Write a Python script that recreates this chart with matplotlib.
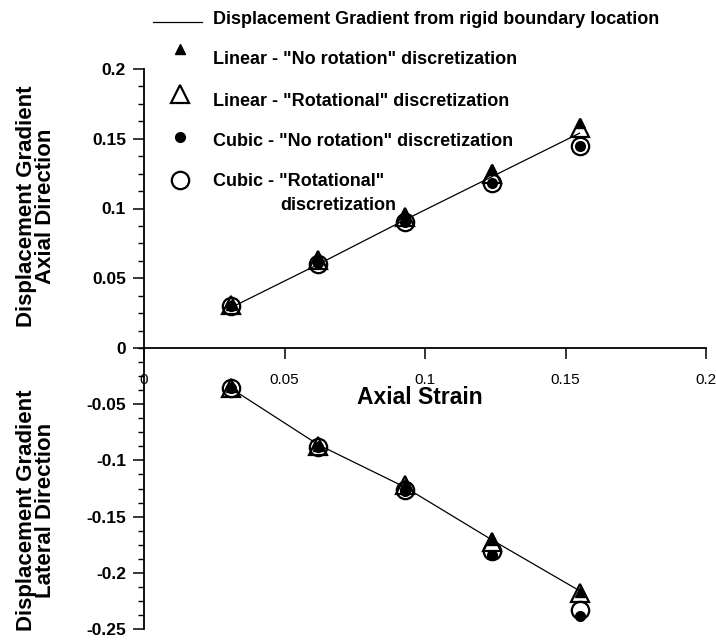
import matplotlib
matplotlib.use("Agg")
import matplotlib.pyplot as plt
from matplotlib.ticker import MultipleLocator, FixedLocator
from matplotlib.lines import Line2D

plt.rcParams['font.family'] = ['Liberation Sans', 'DejaVu Sans']

# Axial strain levels
strain = [0.031, 0.062, 0.093, 0.124, 0.155]

# Axial direction displacement gradient
axial_rigid = [0.029, 0.060, 0.092, 0.123, 0.154]
axial_lin_norot = [0.031, 0.065, 0.096, 0.128, 0.161]
axial_lin_rot = [0.031, 0.063, 0.094, 0.125, 0.158]
axial_cub_norot = [0.030, 0.061, 0.090, 0.118, 0.145]
axial_cub_rot = [0.030, 0.060, 0.090, 0.118, 0.145]

# Lateral direction displacement gradient
lateral_rigid = [-0.036, -0.086, -0.124, -0.171, -0.216]
lateral_lin_norot = [-0.035, -0.087, -0.121, -0.171, -0.217]
lateral_lin_rot = [-0.036, -0.087, -0.122, -0.173, -0.218]
lateral_cub_norot = [-0.036, -0.088, -0.127, -0.184, -0.238]
lateral_cub_rot = [-0.036, -0.088, -0.126, -0.181, -0.233]

legend_labels = [
    'Displacement Gradient from rigid boundary location',
    'Linear - "No rotation" discretization',
    'Linear - "Rotational" discretization',
    'Cubic - "No rotation" discretization',
    'Cubic - "Rotational"',
]

W, H = 716, 640
fig = plt.figure(figsize=(W / 100, H / 100), dpi=100)


def px_rect(left, top, right, bottom):
    return [left / W, 1 - bottom / H, (right - left) / W, (bottom - top) / H]


ax_top = fig.add_axes(px_rect(144, 69, 706, 348))
ax_bot = fig.add_axes(px_rect(144, 348, 706, 629))

open_style = dict(linestyle='none', markerfacecolor='none', markeredgecolor='black',
                  markeredgewidth=1.6, markersize=12.5)
filled_style = dict(linestyle='none', color='black', markersize=7)


def draw_series(ax, rigid, lin_norot, lin_rot, cub_norot, cub_rot):
    ax.plot(strain, rigid, color='black', lw=0.9, zorder=2)
    ax.plot(strain, lin_rot, marker='^', zorder=3, **open_style)
    ax.plot(strain, cub_rot, marker='o', zorder=3, **open_style)
    ax.plot(strain, lin_norot, marker='^', zorder=4, **filled_style)
    ax.plot(strain, cub_norot, marker='o', zorder=4, **filled_style)


draw_series(ax_top, axial_rigid, axial_lin_norot, axial_lin_rot,
            axial_cub_norot, axial_cub_rot)
draw_series(ax_bot, lateral_rigid, lateral_lin_norot, lateral_lin_rot,
            lateral_cub_norot, lateral_cub_rot)

for ax in (ax_top, ax_bot):
    ax.set_facecolor('none')
    ax.set_xlim(0, 0.2)
    for s in ('top', 'right'):
        ax.spines[s].set_visible(False)
    ax.spines['left'].set_linewidth(1.3)
    ax.yaxis.set_minor_locator(MultipleLocator(0.0125))
    ax.tick_params(axis='y', which='major', direction='out', length=8, width=1.1,
                   pad=5, labelsize=12.5)
    ax.tick_params(axis='y', which='minor', direction='out', length=4.5, width=1.0)

ax_top.set_ylim(0, 0.2)
ax_top.yaxis.set_major_locator(FixedLocator([0, 0.05, 0.1, 0.15, 0.2]))
ax_top.set_yticklabels(['0', '0.05', '0.1', '0.15', '0.2'], fontweight='bold')
ax_top.spines['bottom'].set_linewidth(1.3)
ax_top.xaxis.set_major_locator(FixedLocator([0, 0.05, 0.1, 0.15, 0.2]))
ax_top.set_xticklabels(['0', '0.05', '0.1', '0.15', '0.2'])
ax_top.tick_params(axis='x', direction='out', length=8, width=1.1, pad=10, labelsize=11)

ax_bot.set_ylim(-0.25, 0)
ax_bot.yaxis.set_major_locator(FixedLocator([-0.25, -0.2, -0.15, -0.1, -0.05]))
ax_bot.set_yticklabels(['-0.25', '-0.2', '-0.15', '-0.1', '-0.05'], fontweight='bold')
ax_bot.spines['bottom'].set_visible(False)
ax_bot.tick_params(axis='x', which='both', bottom=False, labelbottom=False)

ax_top.set_zorder(3)

# Axis titles
fig.text(420 / W, 1 - 398 / H, 'Axial Strain', ha='center', va='center',
         fontsize=16.5, fontweight='bold')
fig.text(36 / W, 1 - 206 / H, 'Displacement Gradient\nAxial Direction',
         rotation=90, ha='center', va='center', fontsize=16, fontweight='bold',
         linespacing=0.92, multialignment='center')
fig.text(36 / W, 1 - 510 / H, 'Displacement Gradient\nLateral Direction',
         rotation=90, ha='center', va='center', fontsize=16, fontweight='bold',
         linespacing=0.92, multialignment='center')

# Legend block in pixel coordinates
lg = fig.add_axes([0, 0, 1, 1])
lg.set_xlim(0, W)
lg.set_ylim(H, 0)
lg.axis('off')
lg.set_zorder(5)
lg.add_line(Line2D([153, 202], [22, 22], color='black', lw=0.9))
lg.plot([180], [49], marker='^', **filled_style)
lg.plot([180], [94], marker='^', **open_style)
lg.plot([180], [137], marker='o', **filled_style)
lg.plot([180], [180], marker='o', **open_style)
text_y = [19, 60, 101, 142, 181]
for lab, y in zip(legend_labels, text_y):
    lg.text(213, y, lab, ha='left', va='center', fontsize=13, fontweight='bold')
lg.text(280, 206, 'discretization', ha='left', va='center', fontsize=13,
        fontweight='bold')

fig.savefig('out.png', dpi=100)
